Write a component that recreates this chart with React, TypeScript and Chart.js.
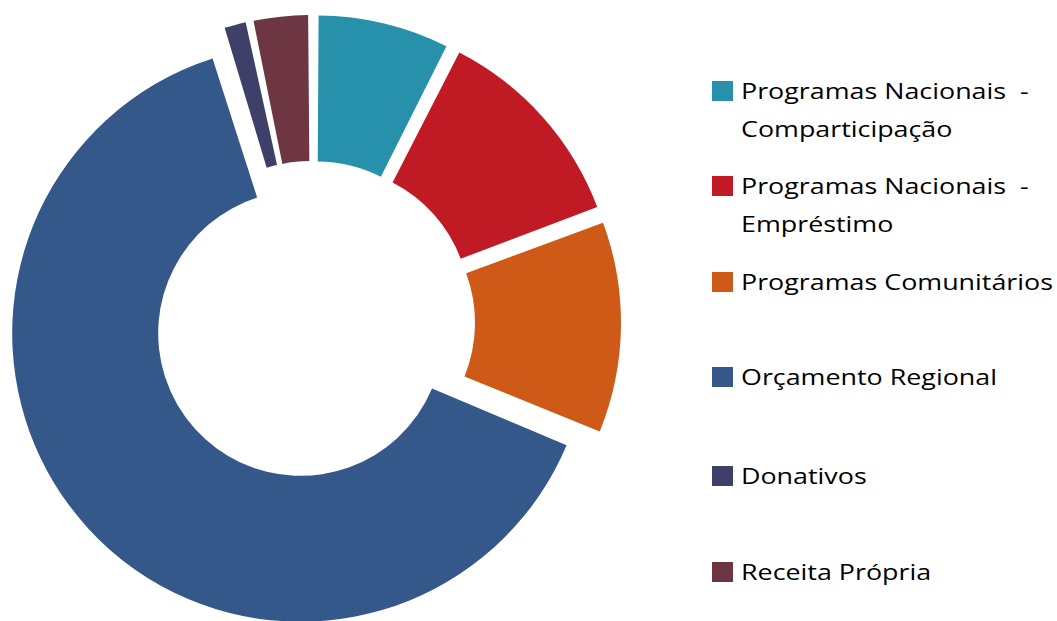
import React, { useEffect, useRef } from "react";
import { Chart, registerables } from "chart.js";

Chart.register(...registerables);

const LABELS = [
  "Programas Nacionais  - Comparticipação",
  "Programas Nacionais  - Empréstimo",
  "Programas Comunitários",
  "Orçamento Regional",
  "Donativos",
  "Receita Própria",
];
const LEGEND_LINES = [
  ["Programas Nacionais  -", "Comparticipação"],
  ["Programas Nacionais  -", "Empréstimo"],
  ["Programas Comunitários"],
  ["Orçamento Regional"],
  ["Donativos"],
  ["Receita Própria"],
];
const VALUES = [7.5, 11.8, 11.9, 64.0, 1.5, 3.3];
const COLORS = ["#2790AB", "#C01B24", "#CF5916", "#34588A", "#3E406A", "#6E3542"];

// explosion distance (px) of each slice
const EXPLODE = [19, 20, 20, 16, 19, 19];

const FONT = "'Open Sans', sans-serif";

// Chart.js grows the radius of an offset arc as well as moving it;
// this plugin cancels the growth so each slice is a pure outward shift.
const pureExplode = {
  id: "pureExplode",
  afterDatasetUpdate(chart: any, args: any) {
    const meta = chart.getDatasetMeta(args.index);
    meta.data.forEach((arc: any) => {
      const o = ((arc.options && arc.options.offset) || 0) / 4;
      const circ = arc.endAngle - arc.startAngle;
      const fix = 1 - Math.sin(Math.min(Math.PI, circ));
      arc.outerRadius -= o * fix;
      arc.innerRadius -= o * fix;
    });
  },
};

export default function App() {
  const ref = useRef<HTMLCanvasElement | null>(null);

  useEffect(() => {
    if (!ref.current) return;
    const chart = new Chart(ref.current, {
      type: "doughnut",
      data: {
        labels: LABELS,
        datasets: [
          {
            data: VALUES,
            backgroundColor: COLORS,
            borderWidth: 0,
            offset: EXPLODE.map((e) => e * 4),
            hoverOffset: 0,
          } as any,
        ],
      },
      options: {
        responsive: false,
        animation: false,
        radius: 288.5,
        cutout: "49.4%",
        layout: { padding: 0 },
        plugins: {
          legend: { display: false },
          tooltip: { enabled: false },
        },
        events: [],
      } as any,
      plugins: [pureExplode],
    });
    return () => chart.destroy();
  }, []);

  const tops = [81, 176, 272, 367, 466, 562];

  return (
    <div
      style={{
        position: "absolute",
        left: 0,
        top: 0,
        width: 1057,
        height: 621,
        overflow: "hidden",
        background: "#fff",
        fontFamily: FONT,
      }}
    >
      <canvas
        ref={ref}
        width={625}
        height={645}
        style={{ position: "absolute", left: 0, top: 0, width: 625, height: 645 }}
      />
      {LEGEND_LINES.map((lines, i) => (
        <div key={i} style={{ position: "absolute", left: 712, top: tops[i] }}>
          <div
            style={{
              position: "absolute",
              left: 0,
              top: 0,
              width: 21,
              height: 20,
              background: COLORS[i],
            }}
          />
          <div
            style={{
              position: "absolute",
              left: 29,
              top: -10,
              fontSize: 22,
              lineHeight: "38px",
              whiteSpace: "pre",
              color: "#000",
              transform: "scaleX(1.22)",
              transformOrigin: "0 0",
            }}
          >
            {lines.map((l, j) => (
              <div key={j}>{l}</div>
            ))}
          </div>
        </div>
      ))}
    </div>
  );
}
